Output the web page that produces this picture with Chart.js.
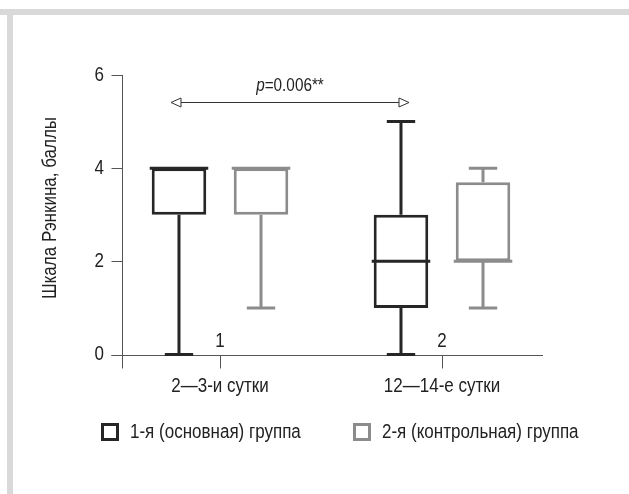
<!DOCTYPE html>
<html>
<head>
<meta charset="utf-8">
<script src="https://cdn.jsdelivr.net/npm/chart.js@4/dist/chart.umd.min.js"></script>
<style>
  html, body { margin: 0; padding: 0; background: #fff; }
  canvas { display: block; }
</style>
</head>
<body>
<canvas id="box-chart" width="629" height="494"></canvas>
<script>
const categories = ["2—3-и сутки", "12—14-е сутки"];
const categoryMarks = ["1", "2"];
const seriesNames = ["1-я (основная) группа", "2-я (контрольная) группа"];
const yTicks = [0, 2, 4, 6];

// box plot values per day: min, lower quartile, median, upper quartile, max
const group1Min = [0, 0];
const group1Q1 = [3, 1];
const group1Median = [4, 2];
const group1Q3 = [4, 3];
const group1Max = [4, 5];

const group2Min = [1, 1];
const group2Q1 = [3, 2];
const group2Median = [4, 2];
const group2Q3 = [4, 3.7];
const group2Max = [4, 4];

const pValue = "0.006**";
const arrowLevel = 5.42;
const pLevel = 5.77;

const FONT = '"Liberation Sans", Arial, sans-serif';
const SQUEEZE = 0.85; // the original uses a condensed face
const BLACK = "#262626";
const GRAY = "#8c8c8c";
const AXIS = "#555555";

const groups = [
    {min: group1Min, q1: group1Q1, median: group1Median, q3: group1Q3, max: group1Max},
    {min: group2Min, q1: group2Q1, median: group2Median, q3: group2Q3, max: group2Max}
];

// draws text squeezed horizontally, align: left/center/right
function narrowText(ctx, text, x, y, align) {
    const w = ctx.measureText(text).width * SQUEEZE;
    let left = x;
    if (align === "center") left = x - w / 2;
    else if (align === "right") left = x - w;
    ctx.save();
    ctx.textAlign = "left";
    ctx.translate(left, y);
    ctx.scale(SQUEEZE, 1);
    ctx.fillText(text, 0, 0);
    ctx.restore();
    return w;
}

const boxPlugin = {
    id: "boxExtras",
    beforeDraw(chart) {
        const ctx = chart.ctx;
        ctx.save();
        ctx.fillStyle = "#fff";
        ctx.fillRect(0, 0, chart.width, chart.height);
        // light grey frame, top and left
        ctx.fillStyle = "#d9d9d9";
        ctx.fillRect(0, 9, chart.width, 6);
        ctx.fillRect(7, 9, 6, chart.height - 9);
        ctx.restore();
    },
    beforeDatasetsDraw(chart) {
        const ctx = chart.ctx;
        const x = chart.scales.x, y = chart.scales.y;
        const axisX = 122.5;
        const zeroY = Math.round(y.getPixelForValue(0)) + 0.5;
        ctx.save();
        ctx.strokeStyle = AXIS;
        ctx.lineWidth = 1;
        ctx.beginPath();
        // y axis
        ctx.moveTo(axisX, y.getPixelForValue(yTicks[yTicks.length - 1]));
        ctx.lineTo(axisX, zeroY + 13);
        // x axis
        ctx.moveTo(axisX - 11, zeroY);
        ctx.lineTo(543, zeroY);
        yTicks.forEach(v => {
            const py = Math.round(y.getPixelForValue(v)) + 0.5;
            ctx.moveTo(axisX - 11, py);
            ctx.lineTo(axisX, py);
        });
        categories.forEach((c, i) => {
            const px = Math.round(x.getPixelForValue(i)) + 0.5;
            ctx.moveTo(px, zeroY);
            ctx.lineTo(px, zeroY + 13);
        });
        ctx.stroke();

        ctx.fillStyle = "#222";
        ctx.font = "20px " + FONT;
        ctx.textBaseline = "middle";
        yTicks.forEach(v => narrowText(ctx, String(v), 104, y.getPixelForValue(v), "right"));
        categories.forEach((c, i) => {
            narrowText(ctx, c, x.getPixelForValue(i), 386, "center");
            narrowText(ctx, categoryMarks[i], x.getPixelForValue(i), 341, "center");
        });

        // axis title
        ctx.save();
        ctx.translate(50, 208);
        ctx.rotate(-Math.PI / 2);
        narrowText(ctx, "Шкала Рэнкина, баллы", 0, 0, "center");
        ctx.restore();
        ctx.restore();
    },
    afterDatasetsDraw(chart) {
        const ctx = chart.ctx;
        const y = chart.scales.y;
        ctx.save();
        chart.data.datasets.forEach((ds, d) => {
            const meta = chart.getDatasetMeta(d);
            const g = groups[d];
            ctx.strokeStyle = ds.borderColor;
            ctx.lineWidth = 3;
            meta.data.forEach((bar, i) => {
                const cx = bar.x;
                const w = bar.width;
                const cap = w * 0.26;
                const yMin = y.getPixelForValue(g.min[i]);
                const yMax = y.getPixelForValue(g.max[i]);
                const yQ1 = y.getPixelForValue(g.q1[i]);
                const yQ3 = y.getPixelForValue(g.q3[i]);
                const yMed = y.getPixelForValue(g.median[i]);
                ctx.beginPath();
                if (g.max[i] > g.q3[i]) {
                    ctx.moveTo(cx, yQ3);
                    ctx.lineTo(cx, yMax);
                    ctx.moveTo(cx - cap, yMax);
                    ctx.lineTo(cx + cap, yMax);
                }
                if (g.min[i] < g.q1[i]) {
                    ctx.moveTo(cx, yQ1);
                    ctx.lineTo(cx, yMin);
                    ctx.moveTo(cx - cap, yMin);
                    ctx.lineTo(cx + cap, yMin);
                }
                ctx.moveTo(cx - w / 2 - 2, yMed);
                ctx.lineTo(cx + w / 2 + 2, yMed);
                ctx.stroke();
            });
        });

        // comparison arrow between days for group 1
        const m0 = chart.getDatasetMeta(0);
        const x1 = m0.data[0].x - 8, x2 = m0.data[1].x + 8;
        const ay = Math.round(y.getPixelForValue(arrowLevel)) + 0.5;
        ctx.strokeStyle = "#333";
        ctx.lineWidth = 1;
        ctx.beginPath();
        ctx.moveTo(x1 + 10, ay);
        ctx.lineTo(x2 - 10, ay);
        ctx.stroke();
        ctx.fillStyle = "#fff";
        [[x1, 1], [x2, -1]].forEach(([tx, dir]) => {
            ctx.beginPath();
            ctx.moveTo(tx, ay);
            ctx.lineTo(tx + dir * 10, ay - 4.5);
            ctx.lineTo(tx + dir * 10, ay + 4.5);
            ctx.closePath();
            ctx.fill();
            ctx.stroke();
        });

        ctx.fillStyle = "#222";
        ctx.textBaseline = "middle";
        ctx.font = "italic 18px " + FONT;
        const pw = ctx.measureText("p").width * SQUEEZE;
        ctx.font = "18px " + FONT;
        const rw = ctx.measureText("=" + pValue).width * SQUEEZE;
        const px = (x1 + x2) / 2 - (pw + rw) / 2;
        const py = y.getPixelForValue(pLevel);
        ctx.font = "italic 18px " + FONT;
        narrowText(ctx, "p", px, py, "left");
        ctx.font = "18px " + FONT;
        narrowText(ctx, "=" + pValue, px + pw, py, "left");

        // legend
        ctx.font = "20px " + FONT;
        ctx.lineWidth = 3;
        [[102.5, 130], [354.5, 382]].forEach(([bx, tx], d) => {
            ctx.strokeStyle = chart.data.datasets[d].borderColor;
            ctx.strokeRect(bx, 424.5, 15, 15);
            ctx.fillStyle = "#222";
            narrowText(ctx, seriesNames[d], tx, 432, "left");
        });
        ctx.restore();
    }
};

new Chart(document.getElementById("box-chart"), {
    type: "bar",
    data: {
        labels: categories,
        datasets: [
            {
                label: seriesNames[0],
                data: group1Q1.map((v, i) => [v, group1Q3[i]]),
                backgroundColor: "#fff",
                borderColor: BLACK,
                borderWidth: 3,
                borderSkipped: false
            },
            {
                label: seriesNames[1],
                data: group2Q1.map((v, i) => [v, group2Q3[i]]),
                backgroundColor: "#fff",
                borderColor: GRAY,
                borderWidth: 3,
                borderSkipped: false
            }
        ]
    },
    options: {
        responsive: false,
        animation: false,
        events: [],
        layout: { padding: { left: 109, right: 76, top: 75, bottom: 139.5 } },
        categoryPercentage: 0.739,
        barPercentage: 0.665,
        plugins: {
            legend: { display: false },
            tooltip: { enabled: false }
        },
        scales: {
            x: { display: false, offset: true },
            y: { display: false, min: 0, max: 6 }
        }
    },
    plugins: [boxPlugin]
});
</script>
</body>
</html>
